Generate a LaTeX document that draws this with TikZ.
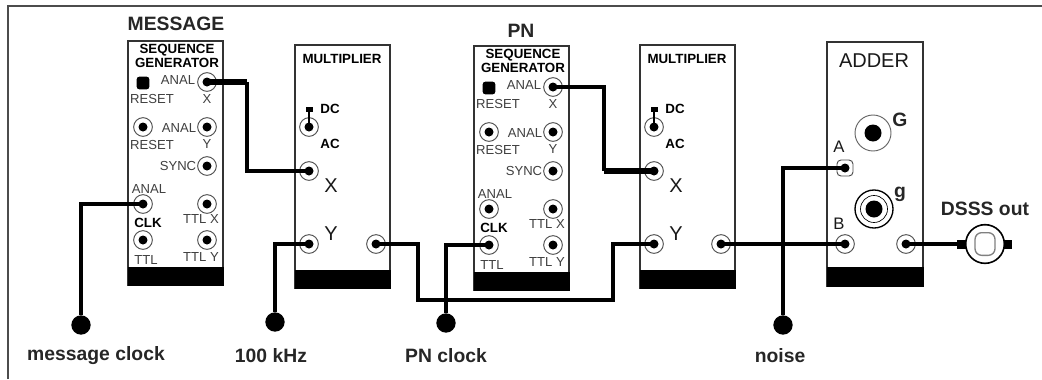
\documentclass[tikz,border=0pt]{standalone}
\usepackage{fontspec}
\setmainfont{Liberation Sans}
\usetikzlibrary{positioning}
\tikzstyle{wire}=[line width=3pt, black, line join=miter]
\tikzstyle{thinwire}=[line width=2.6pt, black]
\tikzstyle{heavywire}=[line width=3.8pt, black]
\tikzstyle{panel}=[draw=black!80, line width=1.5pt, fill=white]
\tikzstyle{bar}=[fill=black, draw=black]
\tikzstyle{jack}=[circle, draw=black!70, line width=.7pt, inner sep=0pt, minimum size=14pt,
	path picture={\fill[black] (path picture bounding box.center) circle (4.5);}]
\tikzstyle{smalljack}=[jack, minimum size=12pt]
\tikzstyle{knob}=[circle, draw=black!60, line width=.7pt, inner sep=0pt, minimum size=27pt,
	path picture={\fill[black] (path picture bounding box.center) circle (8.5);}]
\tikzstyle{knobb}=[knob, draw=black, line width=1pt, minimum size=28.5pt,
	path picture={\fill[black] (path picture bounding box.center) circle (8.5);
		\draw[black, line width=.5pt] (path picture bounding box.center) circle (13.5);}]
\tikzstyle{dot}=[circle, fill=black, inner sep=0pt, minimum size=14.5pt]
\tikzstyle{big}=[inner sep=0pt, font=\fontsize{14.5}{16}\selectfont\bfseries, text=black!85]
\tikzstyle{bigthin}=[inner sep=0pt, font=\fontsize{15}{16}\selectfont, text=black!90]
\tikzstyle{tiny}=[inner sep=0pt, font=\fontsize{9.8}{10}\selectfont, text=black!75]
\tikzstyle{tinyb}=[inner sep=0pt, font=\fontsize{10}{10}\selectfont\bfseries, text=black]

\newcommand{\seqgen}[3]{
	\begin{scope}[shift={(#2,#3)}, name prefix=#1-]
		\draw[panel] (0,0) rectangle (95,244);
		\draw[bar] (0,226) rectangle (95,244);
		\node[tinyb] (seq) at (49,9) {SEQUENCE};
		\node[tinyb] (gen) at (49,22) {GENERATOR};

		\node[fill=black, rounded corners=2pt, inner sep=0pt, minimum size=9.5pt] (btn) at (15,42) {};
		\node[jack] (x) at (79,41) {};
		\node[jack] (y) at (79,86) {};
		\node[jack] (rst) at (15,86) {};
		\node[jack] (sync) at (79,125) {};
		\node[jack] (anal) at (15,163) {};
		\node[jack] (ttlx) at (79,163) {};
		\node[jack] (ttl) at (15,199) {};
		\node[jack] (ttly) at (79,199) {};

		\node[tiny] (lanalx) at (50,39) {ANAL};
		\node[tiny] (lrsta) at (24,58) {RESET};
		\node[tiny] (lx) at (79,58) {X};
		\node[tiny] (lanaly) at (51,87) {ANAL};
		\node[tiny] (lrstb) at (24,104) {RESET};
		\node[tiny] (ly) at (79,103) {Y};
		\node[tiny] (lsync) at (50,125) {SYNC};
		\node[tiny] (lanal) at (21,148) {ANAL};
		\node[tiny] (lttlx) at (73,178) {TTL X};
		\node[tinyb] (lclk) at (20,182) {CLK};
		\node[tiny] (lttl) at (18,219) {TTL};
		\node[tiny] (lttly) at (73,216) {TTL Y};
	\end{scope}
}
\newcommand{\multiplier}[3]{
	\begin{scope}[shift={(#2,#3)}, name prefix=#1-]
		\draw[panel] (0,0) rectangle (95,243);
		\draw[bar] (0,225) rectangle (95,243);
		\node[tinyb] (title) at (47,14) {MULTIPLIER};

		\fill[black] (10.5,62) rectangle (17.5,67);
		\draw[line width=2pt] (14,65) -- (14,82);
		\node[jack] (sw) at (14,82) {};
		\draw[line width=2pt] (14,70) -- (14,82);
		\node[tinyb] (dc) at (35,64) {DC};
		\node[tinyb] (ac) at (35,99) {AC};
		\node[jack] (x) at (14,126) {};
		\node[bigthin] (lx) at (36,141) {X};
		\node[jack] (y) at (14,199) {};
		\node[bigthin] (ly) at (36,189) {Y};
		\node[jack] (out) at (81,199) {};
	\end{scope}
}

\begin{document}
\begin{tikzpicture}[x=0.75pt, y=-0.75pt]
	%\draw [help lines] (0,0) grid (1042,379);
	\useasboundingbox (0,0) rectangle (1042,379);

	\draw[black!70, line width=1.5pt] (8,379) -- (8,6) -- (1042,6);

	\seqgen{sqa}{128}{41}
	\multiplier{mula}{295}{45}
	\seqgen{sqb}{474}{46}
	\multiplier{mulb}{640}{45}

	\node[big] (lmessage) at (176,24) {MESSAGE};
	\node[big] (lpn) at (521,31) {PN};

	% adder
	\draw[panel] (827,42) rectangle (923,286);
	\draw[bar] (827,267) rectangle (923,286);
	\node[bigthin] (ladder) at (874,61) {ADDER};
	\node[knob] (gain) at (873,133) {};
	\node[knobb] (fine) at (874,209) {};
	\node[big] (lgain) at (900,120) {G};
	\node[big] (lfine) at (900,194) {g};
	\node[bigthin, font=\fontsize{12.5}{14}\selectfont] (la) at (839,147) {A};
	\node[bigthin, font=\fontsize{12.5}{14}\selectfont] (lb) at (839,224) {B};
	\node[smalljack, rounded corners=3pt, rectangle] (adda) at (845,168) {};
	\node[jack] (addb) at (845,244) {};
	\node[jack] (addout) at (906,244) {};

	% output socket
	\fill[black] (957,240) rectangle (968,249);
	\fill[black] (1002,240) rectangle (1012,249);
	\node[circle, draw=black, line width=1.2pt, fill=white, inner sep=0pt, minimum size=29pt] (bnc) at (985,244) {};
	\node[draw=black!50, line width=1pt, rounded corners=5pt, inner sep=0pt, minimum width=15pt, minimum height=17pt] (bncin) at (985,244) {};
	\node[big] (ldsss) at (985,209) {DSSS out};

	% terminals
	\node[dot] (tmsg) at (81,325) {};
	\node[dot] (tref) at (275,322) {};
	\node[dot] (tpn) at (446,323) {};
	\node[dot] (tnoise) at (783,325) {};
	\node[big] (lmsg) at (96,356) {message clock};
	\node[big] (lref) at (271,356) {100 kHz};
	\node[big] (lpnc) at (446,356) {PN clock};
	\node[big] (lnoise) at (780,356) {noise};

	% knees
	\coordinate (kneea) at (247,82);
	\coordinate (kneeb) at (418,300);
	\coordinate (kneec) at (613,300);
	\coordinate (kneed) at (604,87);

	\draw[heavywire] (sqa-x.center) -- (kneea);
	\draw[wire] (kneea) -- (kneea |- mula-x) -- (mula-x.center);
	\draw[wire] (tmsg) |- (sqa-anal.center);
	\draw[wire] (tref) |- (mula-y.center);
	\draw[wire] (tpn) |- (sqb-ttl.center);
	\draw[thinwire] (mula-out.center) -| (kneeb) -- (kneec) |- (mulb-y.center);
	\draw[wire] (sqb-x.center) -| (kneed |- mulb-x);
	\draw[heavywire] (kneed |- mulb-x) -- (mulb-x.center);
	\draw[wire] (mulb-out.center) -- (addb.center);
	\draw[wire] (tnoise) |- (adda.center);
	\draw[thinwire] (addout.center) -- (bnc.west);
\end{tikzpicture}
\end{document}
